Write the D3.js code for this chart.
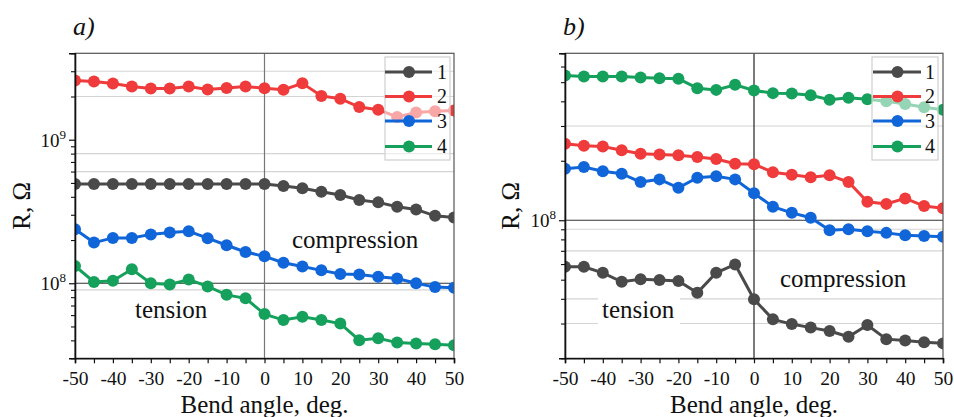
<!DOCTYPE html>
<html><head><meta charset="utf-8">
<script src="https://cdn.jsdelivr.net/npm/d3@7"></script>
<style>body{margin:0;background:#fff}</style>
</head><body><svg id="c" width="954" height="417"></svg>
<script>
const angles = [-50,-45,-40,-35,-30,-25,-20,-15,-10,-5,0,5,10,15,20,25,30,35,40,45,50];
const xTickLabels = [-50,-40,-30,-20,-10,0,10,20,30,40,50];
const seriesNames = ["1","2","3","4"];
const seriesColors = ["#4a4a4a","#ef3b3b","#1066d8","#15a15c"];

// panel a (values in Ohm)
const a1 = [4.92e8,4.92e8,4.92e8,4.92e8,4.92e8,4.92e8,4.92e8,4.92e8,4.92e8,4.92e8,4.92e8,4.76e8,4.59e8,4.34e8,4.12e8,3.80e8,3.66e8,3.41e8,3.27e8,2.95e8,2.87e8];
const a2 = [2.59e9,2.54e9,2.46e9,2.35e9,2.27e9,2.27e9,2.35e9,2.24e9,2.29e9,2.35e9,2.28e9,2.23e9,2.47e9,2.02e9,1.93e9,1.69e9,1.62e9,1.44e9,1.55e9,1.58e9,1.60e9];
const a3 = [2.38e8,1.92e8,2.07e8,2.07e8,2.19e8,2.26e8,2.30e8,2.06e8,1.84e8,1.65e8,1.54e8,1.39e8,1.31e8,1.23e8,1.16e8,1.15e8,1.11e8,1.08e8,1.00e8,0.94e8,0.93e8];
const a4 = [1.32e8,1.02e8,1.04e8,1.25e8,1.00e8,0.98e8,1.06e8,0.95e8,0.83e8,0.785e8,0.61e8,0.554e8,0.584e8,0.554e8,0.524e8,0.401e8,0.414e8,0.386e8,0.38e8,0.376e8,0.37e8];
// panel b
const b1 = [0.581e8,0.581e8,0.542e8,0.488e8,0.502e8,0.498e8,0.492e8,0.429e8,0.542e8,0.597e8,0.398e8,0.315e8,0.298e8,0.286e8,0.275e8,0.257e8,0.295e8,0.25e8,0.246e8,0.241e8,0.238e8];
const b2 = [2.44e8,2.38e8,2.36e8,2.26e8,2.17e8,2.15e8,2.13e8,2.09e8,2.04e8,1.93e8,1.92e8,1.75e8,1.70e8,1.65e8,1.69e8,1.56e8,1.24e8,1.21e8,1.29e8,1.18e8,1.15e8];
const b3 = [1.82e8,1.86e8,1.77e8,1.72e8,1.56e8,1.61e8,1.46e8,1.64e8,1.67e8,1.61e8,1.37e8,1.17e8,1.09e8,1.03e8,0.89e8,0.90e8,0.88e8,0.863e8,0.84e8,0.833e8,0.824e8];
const b4 = [5.40e8,5.34e8,5.34e8,5.34e8,5.28e8,5.23e8,5.21e8,4.66e8,4.57e8,4.85e8,4.54e8,4.40e8,4.38e8,4.29e8,4.07e8,4.17e8,4.10e8,4.00e8,3.88e8,3.73e8,3.62e8];

const aMajorTicks = [1e8, 1e9];
const bMajorTicks = [1e8];
const aGrid = [3e9, 2e9, 8e8, 6e8, 9e7];
const bGrid = [3e8, 9e7, 7e7, 4e7, 3e7];

const FONT = '"Liberation Serif", "Times New Roman", Times, serif';

const panels = [
  {id:"a", label:"a)", labelX:73, x0:75, x1:454, yDomain:[3e7,4e9], series:[a1,a2,a3,a4],
   majors:aMajorTicks, grid:aGrid, zeroColor:"#777",
   legend:{x:385, y:57, w:65, h:103, lineX0:385, lineX1:432, mark:409, text:437},
   comp:{x:292, y:248}, tens:{x:135, y:318, box:false}, titleX:30},
  {id:"b", label:"b)", labelX:563, x0:565, x1:943, yDomain:[2e7,7e8], series:[b1,b2,b3,b4],
   majors:bMajorTicks, grid:bGrid, zeroColor:"#222",
   legend:{x:872, y:57, w:66, h:103, lineX0:873, lineX1:921, mark:897.5, text:925},
   comp:{x:780, y:287}, tens:{x:602, y:318, box:true}, titleX:519}
];

const svg = d3.select("#c");
const yTop = 53.3, yBot = 358.3;
const legendY = [72, 96.5, 121, 146.5];

function txt(sel) { return sel.style("font-family", FONT).style("fill", "#111"); }

panels.forEach(p => {
  const x = d3.scaleLinear().domain([-50,50]).range([p.x0, p.x1]);
  const y = d3.scaleLog().domain(p.yDomain).range([yBot, yTop]);
  const g = svg.append("g");
  const clipId = "clip" + p.id;
  svg.append("clipPath").attr("id", clipId).append("rect")
    .attr("x", p.x0).attr("y", yTop).attr("width", p.x1 - p.x0).attr("height", yBot - yTop);

  // grid lines
  g.selectAll(".grid").data(p.grid).join("line")
    .attr("x1", p.x0).attr("x2", p.x1).attr("y1", d => y(d)).attr("y2", d => y(d))
    .attr("stroke", "#d4d4d4").attr("stroke-width", 1.2);
  g.append("line").attr("x1", p.x0).attr("x2", p.x1).attr("y1", y(1e8)).attr("y2", y(1e8))
    .attr("stroke", "#333").attr("stroke-width", 1.2);
  g.append("line").attr("x1", x(0)).attr("x2", x(0)).attr("y1", yTop).attr("y2", yBot)
    .attr("stroke", p.zeroColor).attr("stroke-width", 1.2);

  // annotations
  if (p.tens.box) {
    g.append("rect").attr("x", p.tens.x - 4).attr("y", p.tens.y - 26).attr("width", 82).attr("height", 36).attr("fill", "#fff");
  }
  txt(g.append("text").attr("x", p.comp.x).attr("y", p.comp.y).attr("font-size", 25)).text("compression");
  txt(g.append("text").attr("x", p.tens.x).attr("y", p.tens.y).attr("font-size", 25)).text("tension");

  // series
  const dg = g.append("g").attr("clip-path", `url(#${clipId})`);
  const line = d3.line().x((d,i) => x(angles[i])).y(d => y(d));
  p.series.forEach((s, k) => {
    dg.append("path").datum(s).attr("d", line).attr("fill", "none")
      .attr("stroke", seriesColors[k]).attr("stroke-width", 3);
    dg.selectAll(null).data(s).join("circle")
      .attr("cx", (d,i) => x(angles[i])).attr("cy", d => y(d)).attr("r", 6)
      .attr("fill", seriesColors[k]);
  });

  // legend
  const L = p.legend;
  g.append("rect").attr("x", L.x).attr("y", L.y).attr("width", L.w).attr("height", L.h)
    .attr("fill", "#fff").attr("fill-opacity", 0.55).attr("stroke", "#cfcfcf").attr("stroke-width", 1.2);
  seriesNames.forEach((n, k) => {
    g.append("line").attr("x1", L.lineX0).attr("x2", L.lineX1).attr("y1", legendY[k]).attr("y2", legendY[k])
      .attr("stroke", seriesColors[k]).attr("stroke-width", 3);
    g.append("circle").attr("cx", L.mark).attr("cy", legendY[k]).attr("r", 6).attr("fill", seriesColors[k]);
    txt(g.append("text").attr("x", L.text).attr("y", legendY[k] + 6.5).attr("font-size", 20)).text(n);
  });

  // frame
  g.append("rect").attr("x", p.x0).attr("y", yTop).attr("width", p.x1 - p.x0).attr("height", yBot - yTop)
    .attr("fill", "none").attr("stroke", "#555").attr("stroke-width", 1.2);

  // x axis
  const xAxis = d3.axisBottom(x).tickValues(angles).tickSize(5)
    .tickFormat(d => xTickLabels.includes(d) ? d : "");
  const xg = g.append("g").attr("transform", `translate(0,${yBot})`).call(xAxis);
  xg.select(".domain").attr("stroke", "#111").attr("stroke-width", 1.6);
  xg.selectAll(".tick line").attr("stroke", "#111").attr("stroke-width", 1.2);
  txt(xg.selectAll(".tick text").attr("font-size", 19.5).attr("dy", "0.95em"));

  // y axis with minor ticks
  const [lo, hi] = p.yDomain;
  const minor = [];
  for (let e = Math.floor(Math.log10(lo)); e <= Math.ceil(Math.log10(hi)); e++) {
    for (let m = 1; m <= 9; m++) {
      const v = m * Math.pow(10, e);
      if (v >= lo * 0.999 && v <= hi * 1.001 && !p.majors.includes(v)) minor.push(v);
    }
  }
  const yAxis = d3.axisLeft(y).tickValues(p.majors).tickSize(6).tickFormat("");
  const yg = g.append("g").attr("transform", `translate(${p.x0},0)`).call(yAxis);
  yg.select(".domain").attr("stroke", "#111").attr("stroke-width", 1.6);
  yg.selectAll(".tick line").attr("stroke", "#111").attr("stroke-width", 1.2);
  const ym = d3.axisLeft(y).tickValues(minor).tickSize(4).tickFormat("");
  const ymg = g.append("g").attr("transform", `translate(${p.x0},0)`).call(ym);
  ymg.select(".domain").remove();
  ymg.selectAll(".tick line").attr("stroke", "#111").attr("stroke-width", 1.1);

  // power-of-ten labels
  p.majors.forEach(v => {
    const t = txt(g.append("text").attr("x", p.x0 - 9).attr("y", y(v) + 7).attr("text-anchor", "end").attr("font-size", 19));
    t.append("tspan").text("10");
    t.append("tspan").attr("dy", -8).attr("font-size", 13).text(Math.round(Math.log10(v)));
  });

  // titles
  txt(g.append("text").attr("x", (p.x0 + p.x1) / 2).attr("y", 413).attr("text-anchor", "middle")
    .attr("font-size", 25)).text("Bend angle, deg.");
  txt(g.append("text").attr("transform", `translate(${p.titleX},${(yTop + yBot) / 2}) rotate(-90)`)
    .attr("text-anchor", "middle").attr("font-size", 25)).text("R, Ω");
  txt(g.append("text").attr("x", p.labelX).attr("y", 35).attr("font-size", 26).attr("font-style", "italic")).text(p.label);
});
</script></body></html>
